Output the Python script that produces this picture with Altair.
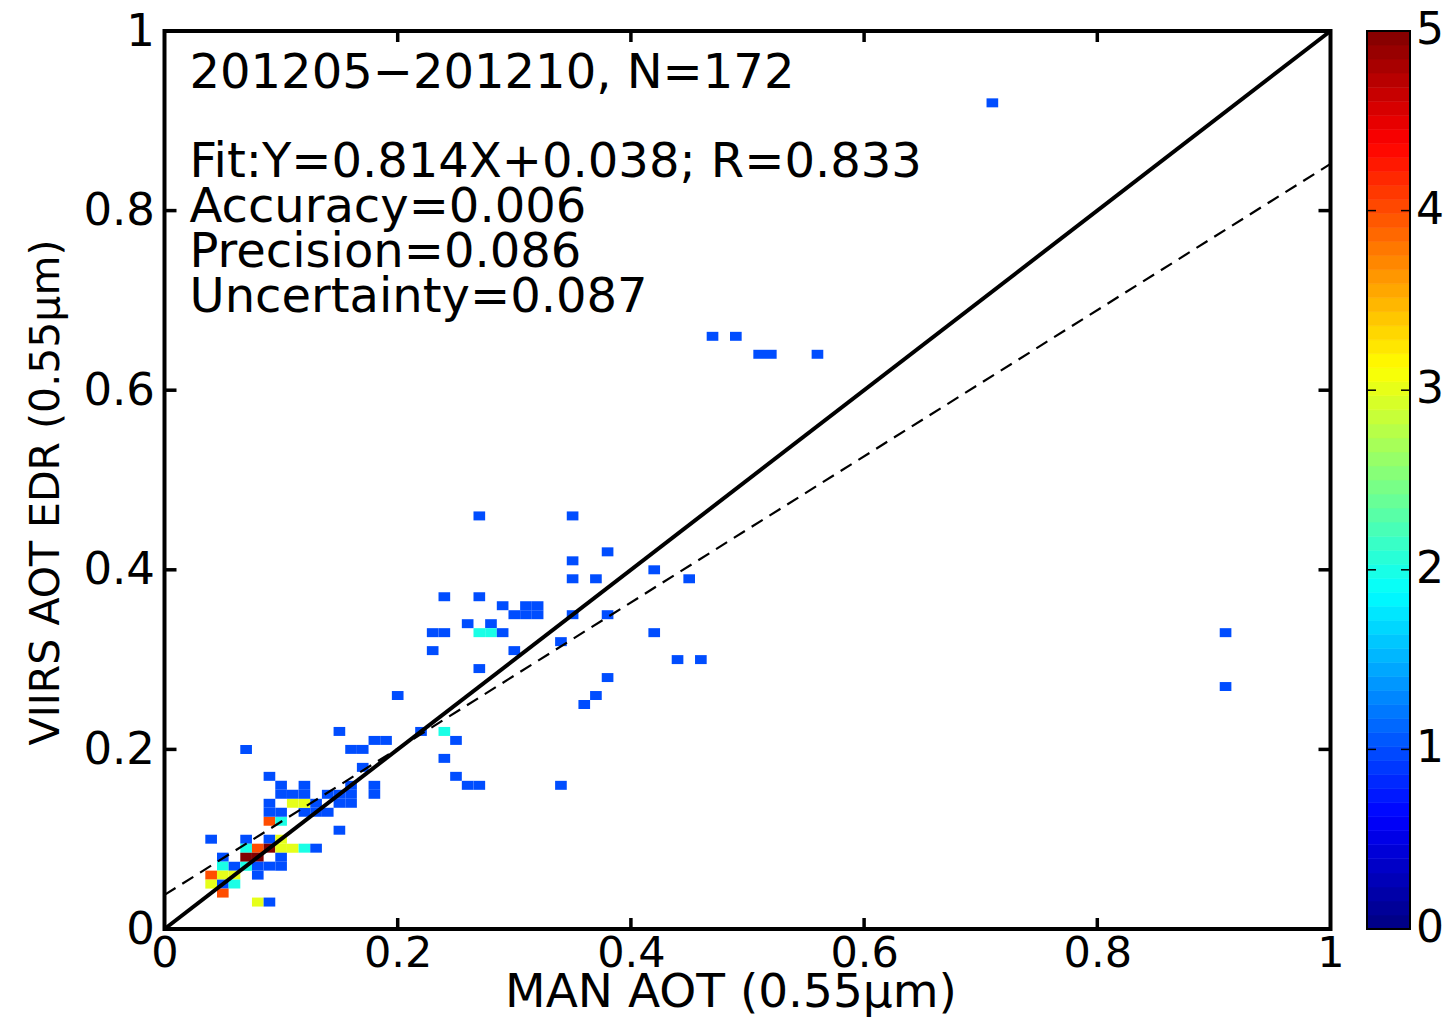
import altair as alt
import pandas as pd

# ---------------- data ----------------
# heat-map cells: bin centres (MAN AOT, VIIRS AOT EDR) and number of matchups
cell_x = [0.04, 0.07, 0.09, 0.10,
          0.07, 0.08, 0.09, 0.10, 0.11, 0.12, 0.13,
          0.05, 0.07, 0.08, 0.10,
          0.05, 0.06, 0.07, 0.08, 0.09, 0.10,
          0.04, 0.05, 0.06, 0.08,
          0.04, 0.05, 0.06,
          0.05,
          0.08, 0.09,
          0.09, 0.10,
          0.15,
          0.09, 0.10, 0.12, 0.13, 0.14,
          0.09, 0.11, 0.12, 0.13, 0.15, 0.16,
          0.10, 0.11, 0.12, 0.14, 0.15, 0.16, 0.18,
          0.10, 0.12, 0.16, 0.18,
          0.09, 0.17,
          0.07, 0.16, 0.17,
          0.18, 0.19,
          0.15, 0.22, 0.24,
          0.25, 0.24, 0.25, 0.26, 0.27, 0.34,
          0.20,
          0.27, 0.35, 0.38, 0.35, 0.42, 0.35, 0.37, 0.45,
          0.24, 0.27, 0.29, 0.31, 0.32, 0.30, 0.31, 0.32, 0.35, 0.38,
          0.26, 0.28, 0.23, 0.24, 0.27, 0.28, 0.29, 0.42,
          0.34, 0.23, 0.30, 0.44, 0.46, 0.27, 0.38, 0.37, 0.36,
          0.47, 0.49, 0.51, 0.52, 0.56, 0.71, 0.91, 0.91]
cell_y = [0.10, 0.10, 0.10, 0.10,
          0.09, 0.09, 0.09, 0.09, 0.09, 0.09, 0.09,
          0.08, 0.08, 0.08, 0.08,
          0.07, 0.07, 0.07, 0.07, 0.07, 0.07,
          0.06, 0.06, 0.06, 0.06,
          0.05, 0.05, 0.05,
          0.04,
          0.03, 0.03,
          0.12, 0.12,
          0.11,
          0.13, 0.13, 0.13, 0.13, 0.13,
          0.14, 0.14, 0.14, 0.14, 0.14, 0.14,
          0.15, 0.15, 0.15, 0.15, 0.15, 0.15, 0.15,
          0.16, 0.16, 0.16, 0.16,
          0.17, 0.18,
          0.20, 0.20, 0.20,
          0.21, 0.21,
          0.22, 0.22, 0.22,
          0.21, 0.19, 0.17, 0.16, 0.16, 0.16,
          0.26,
          0.46, 0.46, 0.42, 0.41, 0.40, 0.39, 0.39, 0.39,
          0.37, 0.37, 0.36, 0.36, 0.36, 0.35, 0.35, 0.35, 0.35, 0.35,
          0.34, 0.34, 0.33, 0.33, 0.33, 0.33, 0.33, 0.33,
          0.32, 0.31, 0.31, 0.30, 0.30, 0.29, 0.28, 0.26, 0.25,
          0.66, 0.66, 0.64, 0.64, 0.64, 0.92, 0.33, 0.27]
cell_n = [1, 1, 1, 3,
          2, 4, 5, 3, 3, 2, 1,
          1, 5, 5, 1,
          2, 1, 2, 1, 1, 1,
          4, 3, 3, 1,
          3, 1, 2,
          4,
          3, 1,
          4, 2,
          1,
          1, 1, 1, 1, 1,
          1, 3, 3, 1, 1, 1,
          1, 1, 1, 1, 1, 1, 1,
          1, 1, 1, 1,
          1, 1,
          1, 1, 1,
          1, 1,
          1, 1, 2,
          1, 1, 1, 1, 1, 1,
          1,
          1, 1, 1, 1, 1, 1, 1, 1,
          1, 1, 1, 1, 1, 1, 1, 1, 1, 1,
          1, 1, 1, 1, 2, 2, 1, 1,
          1, 1, 1, 1, 1, 1, 1, 1, 1,
          1, 1, 1, 1, 1, 1, 1, 1]

bin_width = 0.01

# reference lines
line_x = [0.0, 1.0]
fit_slope = 0.814
fit_intercept = 0.038

axis_ticks = [0, 0.2, 0.4, 0.6, 0.8, 1]
inner_ticks = [0.2, 0.4, 0.6, 0.8]

cbar_ticks = [0, 1, 2, 3, 4, 5]
cbar_inner_ticks = [1, 2, 3, 4]
cbar_steps = 64
cbar_max = 5

note_head = "201205\u2212201210, N=172"
note_stats = ["Fit:Y=0.814X+0.038; R=0.833",
              "Accuracy=0.006",
              "Precision=0.086",
              "Uncertainty=0.087"]

x_title = "MAN AOT (0.55\u03bcm)"
y_title = "VIIRS AOT EDR (0.55\u03bcm)"

# jet colormap key points (MATLAB jet), on the 0..5 count scale
jet_domain = [0, 0.625, 1.875, 3.125, 4.375, 5]
jet_range = ["#000080", "#0000ff", "#00ffff", "#ffff00", "#ff0000", "#800000"]

# ---------------- layout ----------------
W, H = 1166, 898
FONT = "DejaVu Sans"
CBX0, CBX1 = 1202.5, 1245.5

cells = pd.DataFrame({"x": cell_x, "y": cell_y, "n": cell_n})
lines_df = pd.DataFrame({"x": line_x,
                         "one": line_x,
                         "fit": [fit_slope * v + fit_intercept for v in line_x]})
tick_df = pd.DataFrame({"t": inner_ticks})
cb_df = pd.DataFrame({"i": list(range(cbar_steps))})
cb_tick_df = pd.DataFrame({"v": cbar_inner_ticks})
cb_label_df = pd.DataFrame({"v": cbar_ticks})
one_row = pd.DataFrame({"a": [0]})

cscale = alt.Scale(domain=jet_domain, range=jet_range, interpolate="rgb")
xscale = alt.Scale(domain=[0, 1], nice=False, zero=False)
yscale = alt.Scale(domain=[0, 1], nice=False, zero=False)

xaxis = alt.Axis(values=axis_ticks, format="~g", domain=False, ticks=False, grid=False,
                 labelFlush=False, labelFont=FONT, labelFontSize=43, labelColor="black",
                 labelPadding=3, title=x_title, titleFont=FONT, titleFontSize=47,
                 titleFontWeight="normal", titleColor="black", titleX=566, titleY=77,
                 titleAlign="center", titleBaseline="alphabetic")
yaxis = alt.Axis(values=axis_ticks, format="~g", domain=False, ticks=False, grid=False,
                 labelFlush=False, labelFont=FONT, labelFontSize=45, labelColor="black",
                 labelPadding=10, title=y_title, titleFont=FONT, titleFontSize=41,
                 titleFontWeight="normal", titleColor="black", titleX=-106, titleY=461,
                 titleAngle=270, titleAlign="center", titleBaseline="alphabetic")


def X(field):
    return alt.X(field, scale=xscale, axis=xaxis, title=x_title)


def Y(field):
    return alt.Y(field, scale=yscale, axis=yaxis, title=y_title)


heat = alt.Chart(cells).transform_calculate(
    x0=f"datum.x - {bin_width / 2}", x1=f"datum.x + {bin_width / 2}",
    y0=f"datum.y - {bin_width / 2}", y1=f"datum.y + {bin_width / 2}",
).mark_rect().encode(
    x=X("x0:Q"), x2="x1:Q",
    y=Y("y0:Q"), y2="y1:Q",
    color=alt.Color("n:Q", scale=cscale, legend=None),
)

one_line = alt.Chart(lines_df).mark_line(color="black", strokeWidth=4).encode(
    x=X("x:Q"), y=Y("one:Q"))
fit_line = alt.Chart(lines_df).mark_line(color="black", strokeWidth=2.2,
                                         strokeDash=[13, 8]).encode(
    x=X("x:Q"), y=Y("fit:Q"))

tick_style = dict(color="black", strokeWidth=3.5)
t_bottom = alt.Chart(tick_df).mark_rule(**tick_style).encode(
    x=X("t:Q"), y=alt.value(H), y2=alt.value(H - 11))
t_top = alt.Chart(tick_df).mark_rule(**tick_style).encode(
    x=X("t:Q"), y=alt.value(0), y2=alt.value(11))
t_left = alt.Chart(tick_df).mark_rule(**tick_style).encode(
    y=Y("t:Q"), x=alt.value(0), x2=alt.value(12))
t_right = alt.Chart(tick_df).mark_rule(**tick_style).encode(
    y=Y("t:Q"), x=alt.value(W - 12), x2=alt.value(W))

text_style = dict(align="left", baseline="alphabetic", font=FONT, fontSize=48,
                  color="black")
head = alt.Chart(one_row).mark_text(text=note_head, **text_style).encode(
    x=alt.value(25), y=alt.value(57))
stats = alt.Chart(one_row).mark_text(text=note_stats, lineHeight=45, **text_style).encode(
    x=alt.value(25), y=alt.value(146))

# colour bar: levels 0..cbar_max normalised onto the plot height
cb_rects = alt.Chart(cb_df).transform_calculate(
    lo=f"datum.i * {cbar_max} / {cbar_steps}",
    hi=f"(datum.i + 1) * {cbar_max} / {cbar_steps}",
    mid=f"(datum.i + 0.5) * {cbar_max} / {cbar_steps}",
).transform_calculate(
    ylo=f"datum.lo / {cbar_max}", yhi=f"datum.hi / {cbar_max}"
).mark_rect(strokeWidth=0.6).encode(
    x=alt.value(CBX0), x2=alt.value(CBX1),
    y=Y("ylo:Q"), y2="yhi:Q",
    color=alt.Color("mid:Q", scale=cscale, legend=None),
    stroke=alt.Color("mid:Q", scale=cscale, legend=None),
)
cb_t_left = alt.Chart(cb_tick_df).transform_calculate(
    yv=f"datum.v / {cbar_max}").mark_rule(color="black", strokeWidth=1.5).encode(
    y=Y("yv:Q"), x=alt.value(CBX0), x2=alt.value(CBX0 + 9))
cb_t_right = alt.Chart(cb_tick_df).transform_calculate(
    yv=f"datum.v / {cbar_max}").mark_rule(color="black", strokeWidth=1.5).encode(
    y=Y("yv:Q"), x=alt.value(CBX1 - 9), x2=alt.value(CBX1))
cb_frame = alt.Chart(one_row).mark_rect(fillOpacity=0, stroke="black", strokeWidth=2).encode(
    x=alt.value(CBX0), x2=alt.value(CBX1), y=alt.value(0), y2=alt.value(H))
cb_labels = alt.Chart(cb_label_df).transform_calculate(
    yv=f"datum.v / {cbar_max}").mark_text(
    align="left", baseline="middle", font=FONT, fontSize=44, color="black", dx=6
).encode(y=Y("yv:Q"), x=alt.value(CBX1), text=alt.Text("v:Q", format="d"))

chart = alt.layer(
    heat, one_line, fit_line, t_bottom, t_top, t_left, t_right, head, stats,
    cb_rects, cb_t_left, cb_t_right, cb_frame, cb_labels,
).properties(
    width=W, height=H,
    autosize=alt.AutoSizeParams(type="none"),
    padding={"left": 156.5, "top": 23, "right": 113, "bottom": 90},
    background="white",
).configure_view(stroke="black", strokeWidth=4)

chart.save("out.html", embed_options={"renderer": "svg", "actions": False})
